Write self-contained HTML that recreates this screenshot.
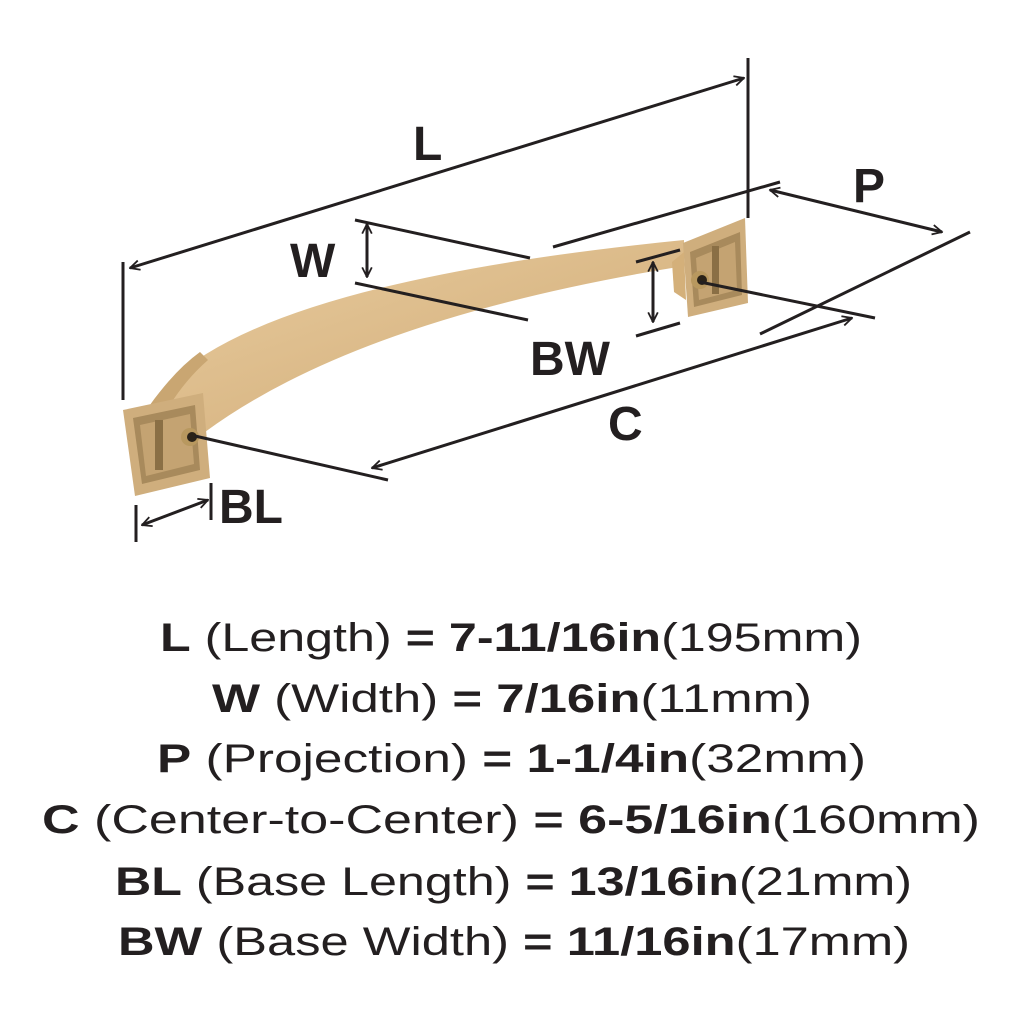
<!DOCTYPE html>
<html><head><style>html,body{margin:0;padding:0;background:#fff}svg{display:block}</style></head>
<body>
<svg width="1024" height="1024" viewBox="0 0 1024 1024" xmlns="http://www.w3.org/2000/svg">
<defs>
<linearGradient id="g" x1="0" y1="0" x2="1" y2="1">
<stop offset="0" stop-color="#e8cc9f"/><stop offset="0.5" stop-color="#dcbb8a"/><stop offset="1" stop-color="#cfac78"/>
</linearGradient>
<marker id="a" viewBox="0 0 10 10" refX="9" refY="5" markerWidth="12" markerHeight="12" markerUnits="userSpaceOnUse" orient="auto-start-reverse">
<path d="M1,1 L9,5 L1,9" fill="none" stroke="#231f20" stroke-width="1.5"/>
</marker>
</defs>
<g stroke="#231f20" stroke-width="3" fill="none">
<!-- handle band -->
<path d="M150,405 Q230,285 684,240 L684,266 Q360,318 205,432 Z" fill="url(#g)" stroke="none"/>
<path d="M150,405 Q175,370 200,352 L208,360 Q185,380 168,408 Z" fill="#c9a672" stroke="none"/>
<!-- left base -->
<polygon points="123,410 203,393 210,478 135,496" fill="#cfae7d" stroke="none"/>
<polygon points="133,418 195,405 200,470 142,484" fill="#a88a5c" stroke="none"/>
<polygon points="140,425 190,414 194,464 146,476" fill="#c4a372" stroke="none"/>
<rect x="155" y="420" width="8" height="50" fill="#8a6f45" stroke="none"/>
<circle cx="190" cy="437" r="9" fill="#b8985f" stroke="none"/>
<circle cx="192" cy="437" r="5" fill="#2a2218" stroke="none"/>
<!-- right base -->
<polygon points="683,243 745,218 748,303 688,317" fill="#cfae7d" stroke="none"/>
<polygon points="690,252 740,232 742,295 694,307" fill="#a88a5c" stroke="none"/>
<polygon points="696,258 735,242 737,290 699,300" fill="#c4a372" stroke="none"/>
<rect x="712" y="246" width="7" height="48" fill="#8a6f45" stroke="none"/>
<circle cx="700" cy="280" r="9" fill="#b8985f" stroke="none"/>
<circle cx="702" cy="280" r="5" fill="#2a2218" stroke="none"/>
<path d="M672,262 L684,252 L686,300 L674,292 Z" fill="#d4b07a" stroke="none"/>
<!-- L -->
<line x1="123" y1="262" x2="123" y2="400"/>
<line x1="748" y1="58" x2="748" y2="218"/>
<line x1="130" y1="268" x2="744" y2="78" marker-start="url(#a)" marker-end="url(#a)"/>
<!-- W -->
<line x1="355" y1="220" x2="530" y2="258"/>
<line x1="355" y1="283" x2="528" y2="320"/>
<line x1="367" y1="224" x2="367" y2="277" marker-start="url(#a)" marker-end="url(#a)"/>
<!-- P -->
<line x1="553" y1="247" x2="780" y2="182"/>
<line x1="770" y1="190" x2="942" y2="232" marker-start="url(#a)" marker-end="url(#a)"/>
<line x1="760" y1="334" x2="970" y2="232"/>
<!-- BW -->
<line x1="636" y1="262" x2="680" y2="250"/>
<line x1="636" y1="336" x2="680" y2="323"/>
<line x1="653" y1="262" x2="653" y2="322" marker-start="url(#a)" marker-end="url(#a)"/>
<!-- C -->
<line x1="700" y1="282" x2="875" y2="318"/>
<line x1="195" y1="436" x2="388" y2="480"/>
<line x1="372" y1="468" x2="852" y2="318" marker-start="url(#a)" marker-end="url(#a)"/>
<!-- BL -->
<line x1="136" y1="505" x2="136" y2="542"/>
<line x1="211" y1="483" x2="211" y2="520"/>
<line x1="142" y1="525" x2="208" y2="500" marker-start="url(#a)" marker-end="url(#a)"/>
</g>
<g font-family="Liberation Sans, sans-serif" font-weight="bold" fill="#231f20" font-size="48">
<text x="413" y="160">L</text>
<text x="290" y="277">W</text>
<text x="853" y="202">P</text>
<text x="530" y="375">BW</text>
<text x="608" y="440">C</text>
<text x="219" y="523">BL</text>
</g>
<g font-family="Liberation Sans, sans-serif" fill="#231f20" font-size="40">
<text x="160" y="651" textLength="702" lengthAdjust="spacingAndGlyphs"><tspan font-weight="bold">L</tspan> (Length) <tspan font-weight="bold">= 7-11/16in</tspan>(195mm)</text>
<text x="212" y="712" textLength="600" lengthAdjust="spacingAndGlyphs"><tspan font-weight="bold">W</tspan> (Width) <tspan font-weight="bold">= 7/16in</tspan>(11mm)</text>
<text x="157" y="772" textLength="709" lengthAdjust="spacingAndGlyphs"><tspan font-weight="bold">P</tspan> (Projection) <tspan font-weight="bold">= 1-1/4in</tspan>(32mm)</text>
<text x="42" y="833" textLength="938" lengthAdjust="spacingAndGlyphs"><tspan font-weight="bold">C</tspan> (Center-to-Center) <tspan font-weight="bold">= 6-5/16in</tspan>(160mm)</text>
<text x="115" y="895" textLength="797" lengthAdjust="spacingAndGlyphs"><tspan font-weight="bold">BL</tspan> (Base Length) <tspan font-weight="bold">= 13/16in</tspan>(21mm)</text>
<text x="118" y="955" textLength="792" lengthAdjust="spacingAndGlyphs"><tspan font-weight="bold">BW</tspan> (Base Width) <tspan font-weight="bold">= 11/16in</tspan>(17mm)</text>
</g>
</svg>
</body></html>
